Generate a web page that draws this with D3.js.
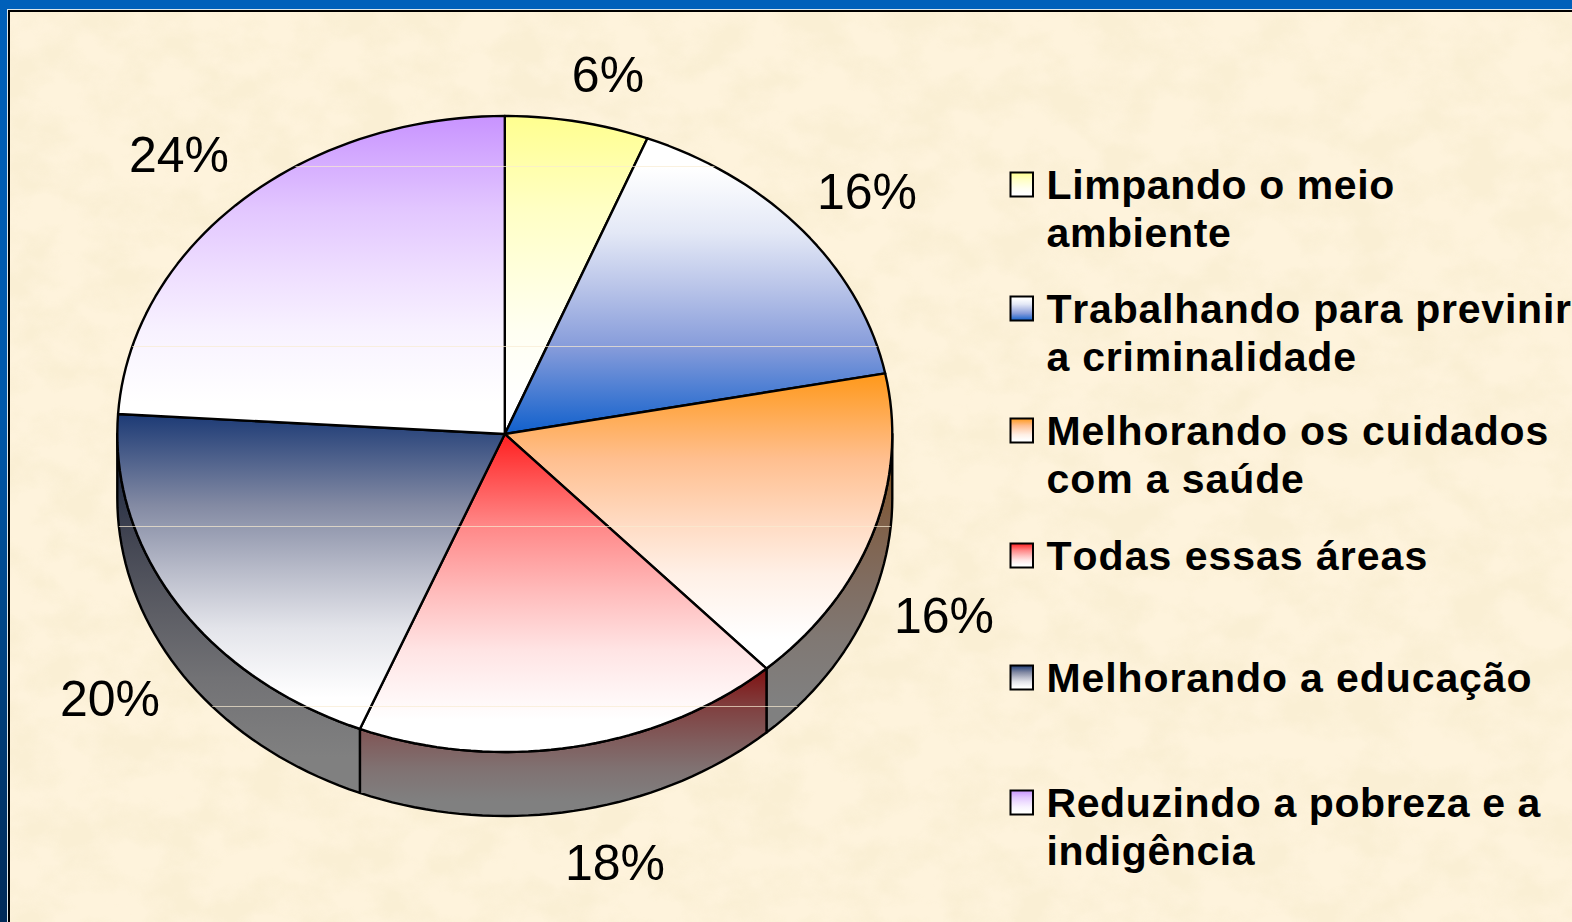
<!DOCTYPE html>
<html lang="pt">
<head>
<meta charset="utf-8">
<style>
html,body{margin:0;padding:0;background:#0060b8;overflow:hidden}
svg{display:block}
text{font-family:"Liberation Sans",Arial,sans-serif;fill:#000;font-kerning:none}
</style>
<script src="https://cdn.jsdelivr.net/npm/d3@7/dist/d3.min.js"></script>
</head>
<body>
<script>
// ---- data (unrounded shares estimated from slice edges) ----
const categories = [
  ["Limpando o meio", "ambiente"],
  ["Trabalhando para previnir", "a criminalidade"],
  ["Melhorando os cuidados", "com a saúde"],
  ["Todas essas áreas"],
  ["Melhorando a educação"],
  ["Reduzindo a pobreza e a", "indigência"]
];
const values = [6, 15.95, 16.25, 17.9, 19.9, 24];
const colours = ["#FFFF8F", "#1060CC", "#FF9819", "#FF1F1F", "#1C3A75", "#C893FF"];
const midTones = [null, "#8C9FDB", "#FFC297", null, "#8A8FA6", null];
const gradientDarkAtBottom = [false, true, false, false, false, false];

// ---- layout ----
const W = 1572, H = 922;
const cx = 504.8, cy = 434, rx = 387.5, ry = 318, depth = 64;
const labelAnchors = [[608, 92], [867, 209], [944, 633], [615, 880], [110, 716], [179, 172]];
const legendBaselines = [[199, 247], [323, 371], [445, 493], [570], [692], [817, 865]];
const legendTracking = [0.6, 0.78, 0.9, 1.0, 0.9, 0.6];
const bandLines = [166, 346, 526, 706];
// how far along a colour-to-white ramp each part of the slice height sits
const ramp = [[0, 0], [0.29, 0.47], [0.5, 0.7], [0.68, 0.88], [0.9, 1], [1, 1]];

const svg = d3.select("body").append("svg").attr("width", W).attr("height", H);
const defs = svg.append("defs");

const x = d3.scaleLinear().domain([-1, 1]).range([cx - rx, cx + rx]);
const y = d3.scaleLinear().domain([-1, 1]).range([cy + ry, cy - ry]);
const px = t => x(Math.sin(t));
const py = (t, dz = 0) => y(Math.cos(t)) + dz;
const samples = (a, b) => {
  const n = Math.max(2, Math.ceil((b - a) / 0.03));
  return d3.range(n + 1).map(i => a + (b - a) * i / n);
};
const line = d3.line();

const arcs = d3.pie().sort(null).value(d => d)(values);

// ---- background ----
const leftBlue = defs.append("linearGradient").attr("id", "leftBlue")
  .attr("x1", 0).attr("y1", 0).attr("x2", 0).attr("y2", 1);
[[0, "#0060BA"], [0.45, "#0058AA"], [0.7, "#004484"], [1, "#002A58"]].forEach(([o, c]) =>
  leftBlue.append("stop").attr("offset", o).attr("stop-color", c));

const tex = defs.append("filter").attr("id", "paper")
  .attr("x", 0).attr("y", 0).attr("width", "100%").attr("height", "100%");
tex.append("feTurbulence").attr("type", "fractalNoise").attr("baseFrequency", "0.02 0.026")
  .attr("numOctaves", 4).attr("seed", 7).attr("result", "n");
tex.append("feColorMatrix").attr("in", "n").attr("type", "matrix")
  .attr("values", "0 0 0 0 0.93  0 0 0 0 0.84  0 0 0 0 0.62  3 0 0 0 -1.1");

svg.append("rect").attr("width", W).attr("height", H).attr("fill", "#0060BA");
svg.append("rect").attr("width", 7).attr("height", H).attr("fill", "url(#leftBlue)");
svg.append("rect").attr("x", 7).attr("y", 9).attr("width", W).attr("height", H).attr("fill", "#DCE6EA");
svg.append("rect").attr("x", 8).attr("y", 10).attr("width", W).attr("height", H).attr("fill", "#000");
svg.append("rect").attr("x", 10).attr("y", 12).attr("width", W).attr("height", H).attr("fill", "#FEF3DC");
svg.append("rect").attr("x", 10).attr("y", 12).attr("width", W).attr("height", H)
  .attr("filter", "url(#paper)").attr("opacity", 0.55);

// ---- gradients ----
const halve = c => { const r = d3.rgb(c); return d3.rgb(r.r / 2, r.g / 2, r.b / 2).formatHex(); };
const toneAt = (i, m) => {
  const c = colours[i], mid = midTones[i];
  if (!mid) return d3.interpolateRgb(c, "#FFFFFF")(m);
  return m < 0.5 ? d3.interpolateRgb(c, mid)(m * 2) : d3.interpolateRgb(mid, "#FFFFFF")((m - 0.5) * 2);
};
const makeGradient = (id, i, shade) => {
  const g = defs.append("linearGradient").attr("id", id)
    .attr("x1", 0).attr("y1", 0).attr("x2", 0).attr("y2", 1);
  const stops = ramp.map(([o, m]) => ({
    offset: gradientDarkAtBottom[i] ? 1 - o : o,
    tone: toneAt(i, m)
  })).sort((a, b) => a.offset - b.offset);
  stops.forEach(s => g.append("stop").attr("offset", s.offset)
    .attr("stop-color", shade ? halve(s.tone) : d3.rgb(s.tone).formatHex()));
};
colours.forEach((c, i) => {
  makeGradient("top" + i, i, false);
  makeGradient("side" + i, i, true);
});

// ---- side wall, lower half only ----
const pieG = svg.append("g");
const lo = Math.PI / 2, hi = 3 * Math.PI / 2;
const walls = arcs.map((a, i) => ({ i, a0: Math.max(a.startAngle, lo), a1: Math.min(a.endAngle, hi) }))
  .filter(d => d.a1 > d.a0);
const wallPath = d => {
  const ts = samples(d.a0, d.a1);
  const upper = ts.map(t => [px(t), py(t)]);
  const lower = ts.slice().reverse().map(t => [px(t), py(t, depth)]);
  return line(upper.concat(lower)) + "Z";
};
pieG.selectAll("path.wall").data(walls).join("path").attr("class", "wall")
  .attr("d", wallPath)
  .attr("fill", d => `url(#side${d.i})`)
  .attr("stroke", "#000").attr("stroke-width", 2.4).attr("stroke-linejoin", "round");

// ---- top face ----
const slicePath = a => {
  const ts = samples(a.startAngle, a.endAngle);
  return line([[x(0), y(0)]].concat(ts.map(t => [px(t), py(t)]))) + "Z";
};
pieG.selectAll("path.slice").data(arcs).join("path").attr("class", "slice")
  .attr("d", slicePath)
  .attr("fill", (d, i) => `url(#top${i})`)
  .attr("stroke", "#000").attr("stroke-width", 2.4).attr("stroke-linejoin", "round");

// ---- pale scan bands crossing the pie ----
const outline = () => {
  const ts = samples(0, 2 * Math.PI);
  const top = ts.map(t => [px(t), py(t)]);
  const wall = samples(lo, hi);
  return line(top) + "Z" + line(wall.map(t => [px(t), py(t)]).concat(wall.slice().reverse().map(t => [px(t), py(t, depth)]))) + "Z";
};
defs.append("clipPath").attr("id", "pieClip").append("path").attr("d", outline());
svg.append("g").attr("clip-path", "url(#pieClip)").selectAll("line").data(bandLines).join("line")
  .attr("x1", cx - rx).attr("x2", cx + rx).attr("y1", d => d + 0.5).attr("y2", d => d + 0.5)
  .attr("stroke", "#F8EBD2").attr("stroke-opacity", 0.7).attr("stroke-width", 1);

// ---- percent labels ----
svg.append("g").selectAll("text").data(values).join("text")
  .attr("x", (d, i) => labelAnchors[i][0]).attr("y", (d, i) => labelAnchors[i][1])
  .attr("text-anchor", "middle").attr("font-size", 50)
  .text(d => Math.round(d) + "%");

// ---- legend ----
const leg = svg.append("g").selectAll("g").data(categories).join("g");
leg.append("rect")
  .attr("x", 1010.5).attr("width", 22.5).attr("height", 24)
  .attr("y", (d, i) => legendBaselines[i][0] - 26.5)
  .attr("fill", (d, i) => `url(#top${i})`)
  .attr("stroke", "#000").attr("stroke-width", 2);
leg.each(function (lines, i) {
  d3.select(this).selectAll("text").data(lines).join("text")
    .attr("x", 1046.5).attr("y", (d, j) => legendBaselines[i][j])
    .attr("font-size", 41).attr("font-weight", 700).attr("letter-spacing", legendTracking[i])
    .text(d => d);
});
</script>
</body>
</html>
